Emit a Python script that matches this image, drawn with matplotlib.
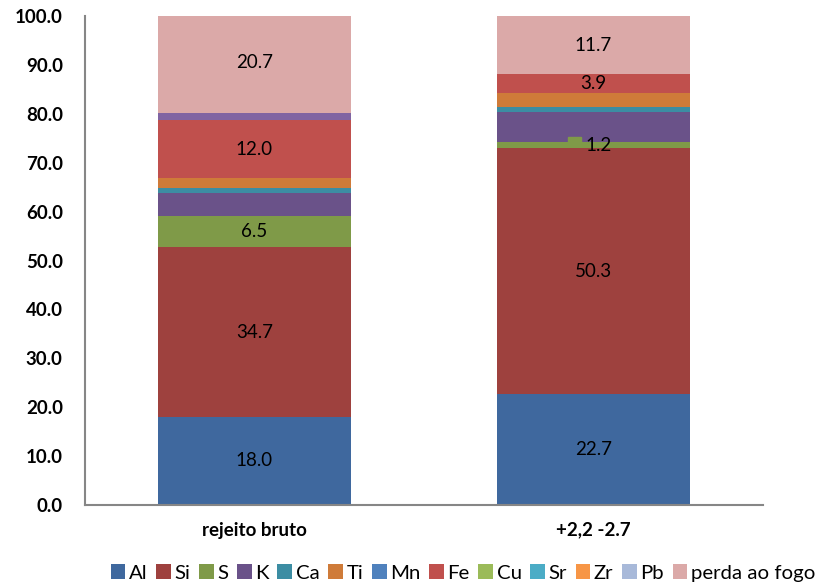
import matplotlib
matplotlib.use("Agg")
import matplotlib.pyplot as plt
from matplotlib.patches import Rectangle
import numpy as np

# === Data ===
categories = ["rejeito bruto", "+2,2 -2.7"]
series_names = ["Al", "Si", "S", "K", "Ca", "Ti", "Mn", "Fe", "Cu", "Sr", "Zr", "Pb",
                "outros", "perda ao fogo"]
al = [18.0, 22.7]
si = [34.7, 50.3]
s = [6.5, 1.2]
k = [4.7, 6.2]
ca = [1.0, 1.0]
ti = [1.9, 2.9]
mn = [0.0, 0.0]
fe = [12.0, 3.9]
cu = [0.0, 0.0]
sr = [0.0, 0.0]
zr = [0.0, 0.0]
pb = [0.0, 0.0]
outros = [1.3, 0.0]          # thin purple band above Fe (not in legend)
perda = [20.7, 11.7]
yticks = [0, 10, 20, 30, 40, 50, 60, 70, 80, 90, 100]

values = [al, si, s, k, ca, ti, mn, fe, cu, sr, zr, pb, outros, perda]
colors = ["#3F689E", "#9E413E", "#7F9A48", "#6A5289", "#3C8DA3", "#CF7B39",
          "#4F81BD", "#C0504D", "#9BBB59", "#4BACC6", "#F79646", "#A8B9D9",
          "#8064A2", "#DBA9A8"]
# which segments carry a value label, per category
labelled = {"Al": [0, 1], "Si": [0, 1], "S": [0, 1], "Fe": [0, 1], "perda ao fogo": [0, 1]}

plt.rcParams['font.family'] = ['Lato', 'DejaVu Sans']

fig = plt.figure(figsize=(8.2, 5.85), dpi=100)
ax = fig.add_axes([85 / 820, 80 / 585, 678 / 820, 489 / 585])

x = np.arange(len(categories))
width = 0.57
bottom = np.zeros(len(categories))
for name, vals, col in zip(series_names, values, colors):
    vals = np.array(vals)
    ax.bar(x, vals, width, bottom=bottom, color=col, edgecolor="none",
           label=name if name != "outros" else "_nolegend_")
    for i in labelled.get(name, []):
        yc = bottom[i] + vals[i] / 2
        dx = 0.0
        if vals[i] < 2:
            dx = 0.015
            # small legend key drawn by the data label
            ax.add_patch(Rectangle((x[i] - 0.074, bottom[i] + vals[i]),
                                   0.036, 1.15, color=col, zorder=3))
        ax.text(x[i] + dx, yc, f"{vals[i]:.1f}", ha="center", va="center",
                fontsize=13.5, color="black", zorder=4)
    bottom += vals

ax.set_xlim(-0.5, 1.5)
ax.set_ylim(0, 100)
ax.set_yticks(yticks)
ax.set_yticklabels([f"{v:.1f}" for v in yticks], fontsize=13.5, fontweight="bold")
ax.set_xticks(x)
ax.set_xticklabels(categories, fontsize=13.5, fontweight="bold")
ax.tick_params(axis="y", length=0, pad=16)
ax.tick_params(axis="x", length=0, pad=12)

for sp in ["top", "right"]:
    ax.spines[sp].set_visible(False)
for sp in ["left", "bottom"]:
    ax.spines[sp].set_color("#868686")
    ax.spines[sp].set_linewidth(1.5)

leg = fig.legend(loc="center", bbox_to_anchor=(463 / 820, 1 - 573 / 585), ncol=13,
                 frameon=False, fontsize=14.7, handlelength=0.72, handleheight=0.72,
                 handletextpad=0.18, columnspacing=0.42, borderaxespad=0, borderpad=0)

fig.savefig("out.png", dpi=100)
